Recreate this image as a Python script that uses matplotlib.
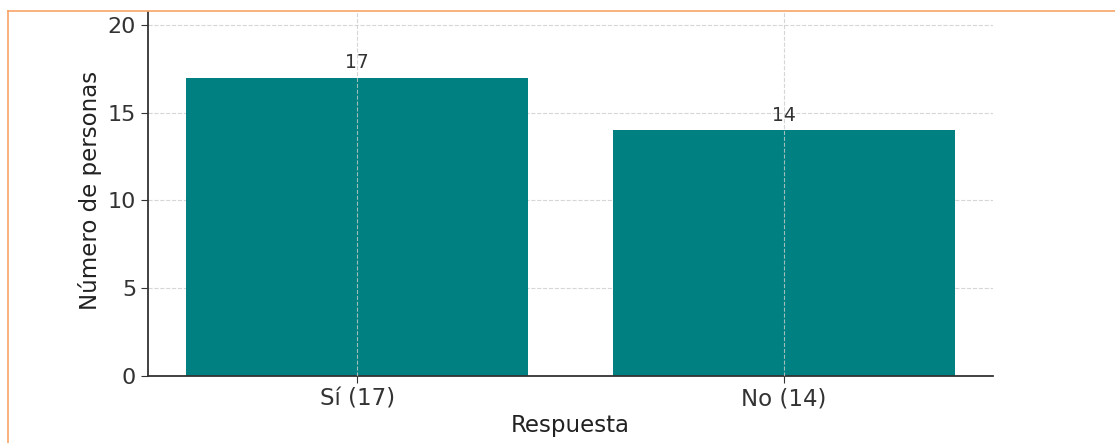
import matplotlib.pyplot as plt
from matplotlib.lines import Line2D

categories = ['Sí (17)', 'No (14)']
values = [17, 14]

fig = plt.figure(figsize=(11.15, 4.43), dpi=100)
ax = fig.add_axes([0.1327, 0.1512, 0.7579, 0.8218])

bars = ax.bar(categories, values, color='#008080', width=0.8)
for b, v in zip(bars, values):
    ax.text(b.get_x() + b.get_width() / 2, v + 0.3, str(v), ha='center', va='bottom',
            fontsize=13.5, color='#333333')

ax.set_ylim(0, 20.74)
ax.set_xlabel('Respuesta', fontsize=16.5, color='#222222', labelpad=2)
ax.set_ylabel('Número de personas', fontsize=16.5, color='#222222')
ax.yaxis.set_label_coords(-0.054, 0.51)
ax.tick_params(axis='x', labelsize=16.5, colors='#333333', length=5)
ax.tick_params(axis='y', labelsize=16, colors='#333333', length=5)
ax.grid(True, linestyle='--', color='#cccccc', alpha=0.8)
ax.set_axisbelow(True)
ax.xaxis.set_zorder(2.5)
for s in ['top', 'right']:
    ax.spines[s].set_visible(False)
for s in ['left', 'bottom']:
    ax.spines[s].set_color('#333333')
    ax.spines[s].set_linewidth(1.3)

# orange frame from the screenshot
fig.add_artist(Line2D([8 / 1115, 8 / 1115], [0, 1 - 11 / 443], color='#f7a468', lw=1.2))
fig.add_artist(Line2D([8 / 1115, 1], [1 - 11 / 443, 1 - 11 / 443], color='#f7a468', lw=1.2))

fig.savefig('out.png', dpi=100)
